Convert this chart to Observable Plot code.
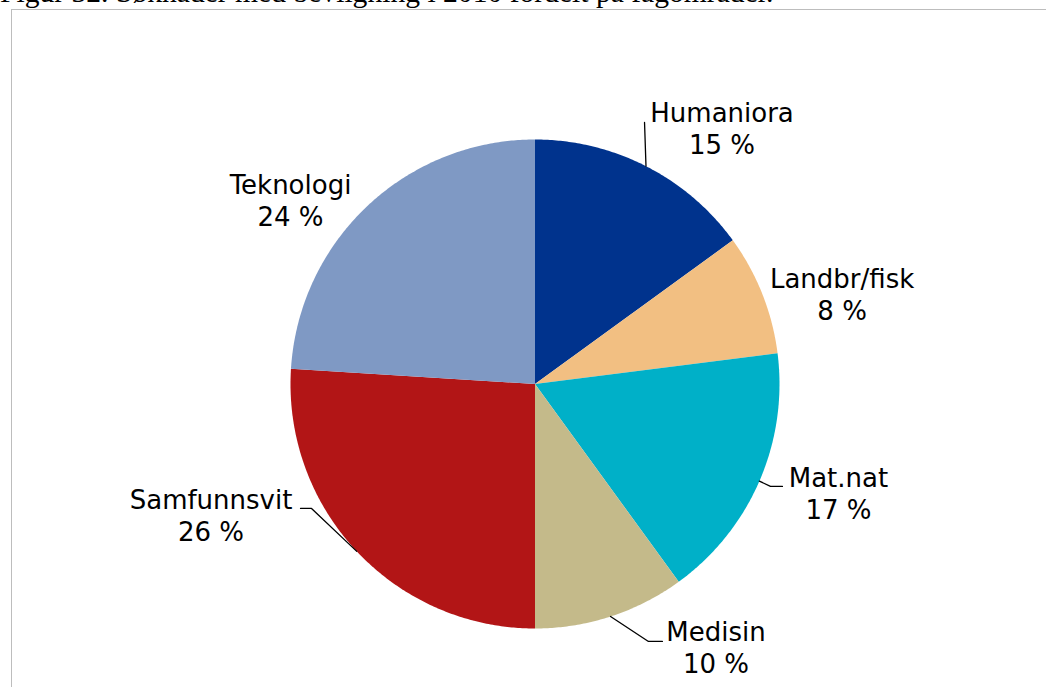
<!DOCTYPE html>
<html>
<head>
<meta charset="utf-8">
<script src="https://cdn.jsdelivr.net/npm/d3@7"></script>
<script src="https://cdn.jsdelivr.net/npm/@observablehq/plot@0.6"></script>
<style>
  html, body { margin: 0; padding: 0; background: #fff; width: 1046px; height: 687px; overflow: hidden; }
  #title { position: absolute; left: 0; top: -23px; font-family: "Liberation Serif", "Times New Roman", serif; font-size: 29.6px; line-height: 30px; color: #000; white-space: nowrap; }
  #frame { position: absolute; left: 11px; top: 9px; width: 1100px; height: 760px; border: 1px solid #bdbdbd; box-sizing: border-box; }
  #chart { position: absolute; left: 0; top: 0; }
</style>
</head>
<body>
<div id="title">Figur 32. Søknader med bevilgning i 2010 fordelt på fagområder.</div>
<div id="frame"></div>
<div id="chart"></div>
<script>
// ---- data ----
const categories = ["Humaniora", "Landbr/fisk", "Mat.nat", "Medisin", "Samfunnsvit", "Teknologi"];
const shares = [15, 8, 17, 10, 26, 24];
const colors = ["#00338d", "#f2bf82", "#00b0c8", "#c4ba8a", "#b21516", "#7f99c4"];

// label layout (in chart units, radius of pie = 1)
const labelX = [0.765, 1.256, 1.241, 0.740, -1.325, -1.000];
const labelY = [1.070, 0.391, -0.423, -1.053, -0.513, 0.779];
// leader lines: which labels have one, and their bend / end points
const leaderCats = ["Humaniora", "Mat.nat", "Medisin", "Samfunnsvit"];
const leaderBendX = [0.448, 0.963, 0.464, -0.914];
const leaderBendY = [1.0695, -0.419, -1.053, -0.509];
const leaderEndX = [0.448, 1.012, 0.521, -0.959];
const leaderEndY = [1.0695, -0.419, -1.053, -0.509];

// ---- build slice polygons ----
const total = d3.sum(shares);
const slices = [];
const midAngle = {};
let acc = 0;
categories.forEach((c, i) => {
  const a0 = acc / total * 2 * Math.PI;
  acc += shares[i];
  const a1 = acc / total * 2 * Math.PI;
  midAngle[c] = (a0 + a1) / 2;
  slices.push({name: c, x: 0, y: 0});
  const n = Math.max(2, Math.ceil((a1 - a0) / (Math.PI / 360)));
  for (let k = 0; k <= n; k++) {
    const a = a0 + (a1 - a0) * k / n;
    slices.push({name: c, x: Math.sin(a), y: Math.cos(a)});
  }
});

const labels = categories.map((c, i) => ({name: c, pct: `${shares[i]} %`, x: labelX[i], y: labelY[i]}));

const leaders = [];
leaderCats.forEach((c, i) => {
  const a = midAngle[c];
  leaders.push({name: c, x: Math.sin(a), y: Math.cos(a)});
  leaders.push({name: c, x: leaderBendX[i], y: leaderBendY[i]});
  leaders.push({name: c, x: leaderEndX[i], y: leaderEndY[i]});
});

const R = 244.5, cx = 534.5, cy = 383.5;
const chart = Plot.plot({
  width: 1046,
  height: 687,
  margin: 0,
  style: {background: "transparent", overflow: "visible"},
  x: {domain: [-1, 1], range: [cx - R, cx + R], axis: null},
  y: {domain: [-1, 1], range: [cy + R, cy - R], axis: null},
  color: {domain: categories, range: colors},
  marks: [
    Plot.line(slices, {x: "x", y: "y", z: "name", fill: "name", stroke: "none", curve: "linear"}),
    Plot.line(leaders, {x: "x", y: "y", z: "name", stroke: "#000", strokeWidth: 1.3, curve: "linear"}),
    Plot.text(labels, {x: "x", y: "y", text: "name", textAnchor: "middle", lineAnchor: "bottom",
      fontFamily: "DejaVu Sans, Verdana, sans-serif", fontSize: 26, fill: "#000"}),
    Plot.text(labels, {x: "x", y: "y", text: "pct", dy: 32, textAnchor: "middle", lineAnchor: "bottom",
      fontFamily: "DejaVu Sans, Verdana, sans-serif", fontSize: 26, fill: "#000"})
  ]
});
document.getElementById("chart").appendChild(chart);
</script>
</body>
</html>
